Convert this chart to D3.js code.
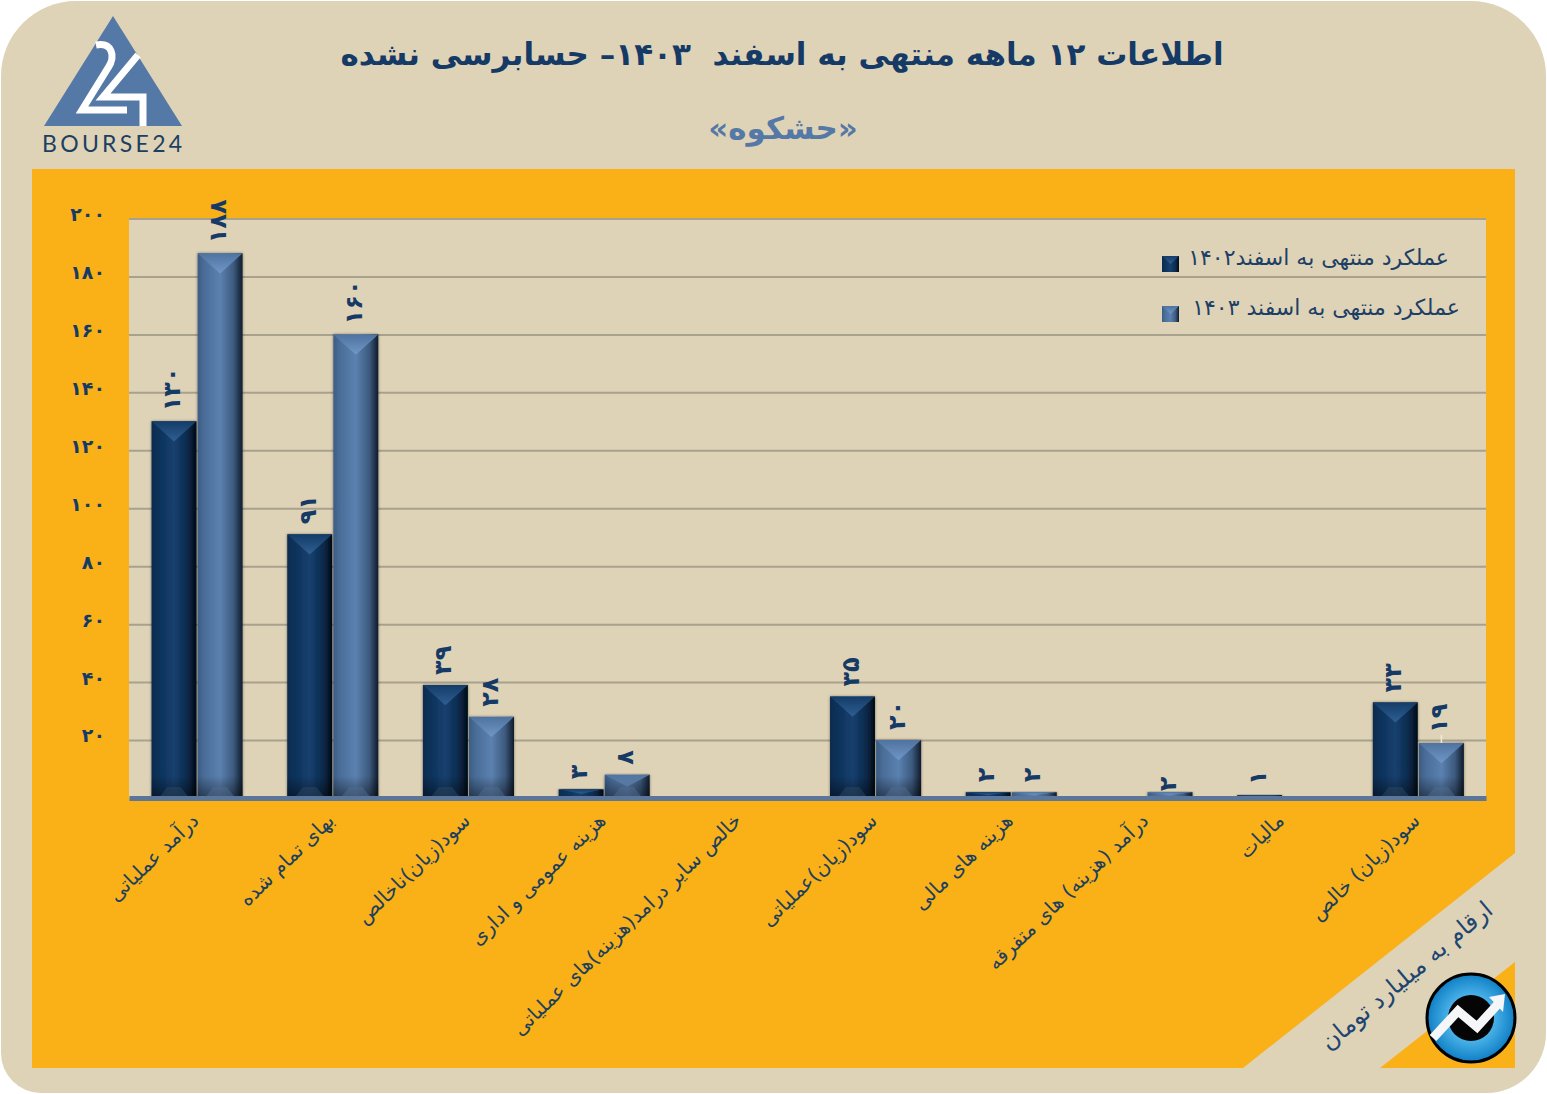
<!DOCTYPE html>
<html lang="fa">
<head>
<meta charset="utf-8">
<title>حشکوه</title>
<script src="https://cdn.jsdelivr.net/npm/d3@7"></script>
<style>
  html, body { margin: 0; padding: 0; background: #fff; }
  svg { display: block; }
  text { font-family: "DejaVu Sans", sans-serif; }
</style>
</head>
<body>
<script>
// data
const categories = [
  "درآمد عملیاتی",
  "بهای تمام شده",
  "سود(زیان)ناخالص",
  "هزینه عمومی و اداری",
  "خالص سایر درامد(هزینه)های عملیاتی",
  "سود(زیان)عملیاتی",
  "هزینه های مالی",
  "درآمد (هزینه) های متفرقه",
  "مالیات",
  "سود(زیان) خالص"
];
const series_names = ["عملکرد منتهی به اسفند۱۴۰۲", "عملکرد منتهی به اسفند ۱۴۰۳"];
const values_1402 = [130, 91, 39, 3, null, 35, 2, null, 1, 33];
const values_1403 = [188, 160, 28, 8, null, 20, 2, 2, null, 19];
const y_ticks = [20, 40, 60, 80, 100, 120, 140, 160, 180, 200];

const title_text = "اطلاعات ۱۲ ماهه منتهی به اسفند  ۱۴۰۳– حسابرسی نشده";
const subtitle_text = "«حشکوه»";
const unit_text = "ارقام به میلیارد تومان";

// colours
const beige = "#dfd3b7", orange = "#f9b117", navy = "#163a66", steel = "#5579a6";

// dimensions
const width = 1547, height = 1094;
const margin = {top: 218.5, right: 61, bottom: 296, left: 129};

const svg = d3.select("body").append("svg")
  .attr("width", width)
  .attr("height", height);

const fa = n => String(n).replace(/\d/g, d => "۰۱۲۳۴۵۶۷۸۹"[d]);

// gradients for the bars
const defs = svg.append("defs");
function hGrad(id, stops) {
  const g = defs.append("linearGradient").attr("id", id);
  stops.forEach(s => g.append("stop").attr("offset", s[0]).attr("stop-color", s[1]));
}
function vGrad(id, stops) {
  const g = defs.append("linearGradient").attr("id", id).attr("x1", 0).attr("x2", 0).attr("y1", 0).attr("y2", 1);
  stops.forEach(s => g.append("stop").attr("offset", s[0]).attr("stop-color", s[1]).attr("stop-opacity", s[2] === undefined ? 1 : s[2]));
}
hGrad("body0", [[0, "#0b2b4f"], [0.15, "#0e3159"], [0.5, "#15406f"], [0.8, "#0c2a4c"], [1, "#020a14"]]);
hGrad("body1", [[0, "#3c5d85"], [0.15, "#4a6d98"], [0.5, "#5b81b0"], [0.8, "#3d5a7e"], [1, "#0f1b2b"]]);
vGrad("top0", [[0, "#143c68"], [1, "#2f5f92"]]);
vGrad("top1", [[0, "#4f739f"], [1, "#7097c8"]]);
vGrad("foot", [[0, "#000", 0], [1, "#000", 0.45]]);
const shadow = defs.append("filter").attr("id", "shade")
  .attr("x", "-10%").attr("width", "120%").attr("y", "-5%").attr("height", "110%");
shadow.append("feDropShadow").attr("dx", 0).attr("dy", 0).attr("stdDeviation", 1.5)
  .attr("flood-color", "#000").attr("flood-opacity", 0.45);

const logo_grad = defs.append("radialGradient").attr("id", "ball");
[[0, "#8fd0f2"], [0.55, "#45aee6"], [1, "#0f7fc4"]].forEach(s =>
  logo_grad.append("stop").attr("offset", s[0]).attr("stop-color", s[1]));

// panel and orange background
svg.append("path")
  .attr("d", "M76,1H1471A75,75 0 0 1 1546,76V1033A60,60 0 0 1 1486,1093H41A40,40 0 0 1 1,1053V76A75,75 0 0 1 76,1Z")
  .attr("fill", beige);
svg.append("path").attr("d", "M32,169H1515V853L1243,1068H32Z").attr("fill", orange);
svg.append("path").attr("d", "M1515,962V1068H1380Z").attr("fill", orange);

// plot background
svg.append("rect")
  .attr("x", margin.left).attr("y", margin.top)
  .attr("width", width - margin.left - margin.right)
  .attr("height", height - margin.top - margin.bottom)
  .attr("fill", beige);

// scales
const x = d3.scaleBand().domain(categories).range([margin.left, width - margin.right]);
const xInner = d3.scaleBand().domain([0, 1])
  .range([x.bandwidth() * 0.166, x.bandwidth() * 0.837]).paddingInner(0.025);
const y = d3.scaleLinear().domain([0, 200]).range([height - margin.bottom, margin.top]);

// y axis and grid
const yAxis = svg.append("g")
  .attr("transform", "translate(" + margin.left + ",0)")
  .call(d3.axisLeft(y).tickValues(y_ticks).tickFormat(fa).tickSize(-(width - margin.left - margin.right)).tickPadding(24));
yAxis.select(".domain").remove();
yAxis.selectAll("line").attr("stroke", "#a8a18e").attr("stroke-width", 2);
yAxis.selectAll("text")
  .attr("dy", "0.1em")
  .attr("fill", navy)
  .attr("font-size", 19)
  .attr("font-weight", "bold");

// bars
const rows = [];
categories.forEach((c, i) => {
  [values_1402[i], values_1403[i]].forEach((v, s) => {
    if (v !== null) rows.push({category: c, series: s, value: v, index: i});
  });
});

const bw = xInner.bandwidth();
const bars = svg.append("g").selectAll("g").data(rows).enter().append("g")
  .attr("transform", d => "translate(" + (x(d.category) + xInner(d.series)) + ",0)");

bars.append("rect")
  .attr("y", d => y(d.value))
  .attr("width", bw)
  .attr("height", d => y(0) - y(d.value))
  .attr("fill", d => "url(#body" + d.series + ")")
  .attr("filter", "url(#shade)");

// bevel on top of each bar, limited by the bar height
bars.append("path")
  .attr("d", d => {
    const depth = Math.min(bw * 0.45, (y(0) - y(d.value)) * 0.5);
    return "M0," + y(d.value) + "H" + bw + "L" + (bw / 2) + "," + (y(d.value) + depth) + "Z";
  })
  .attr("fill", d => "url(#top" + d.series + ")");

// darker bevel at the foot of each bar
bars.filter(d => d.value > 5).append("rect")
  .attr("y", y(0) - 22)
  .attr("width", bw)
  .attr("height", 22)
  .attr("fill", "url(#foot)");
bars.filter(d => d.value > 5).append("path")
  .attr("d", "M" + (bw * 0.16) + "," + y(0) + "H" + (bw * 0.84) + "L" + (bw * 0.65) + "," + (y(0) - 11) + "H" + (bw * 0.35) + "Z")
  .attr("fill", d => d.series ? "#4f6c8f" : "#2b4764")
  .attr("opacity", 0.5);

// value labels
const label_gap = d => d.index === 7 ? 1 : 10;
bars.append("text")
  .attr("transform", d => "translate(" + (bw / 2 + 6) + "," + (y(d.value) - label_gap(d)) + ") rotate(-90)")
  .attr("fill", navy)
  .attr("font-size", 24)
  .attr("font-weight", "bold")
  .text(d => fa(d.value));

// small leader above the last bar
bars.filter(d => d.index === 9 && d.series === 1).append("line")
  .attr("x1", bw / 2).attr("x2", bw / 2)
  .attr("y1", d => y(d.value) - 8).attr("y2", d => y(d.value))
  .attr("stroke", "#f1ead9").attr("stroke-width", 1.5);

// x axis
const xAxis = svg.append("g")
  .attr("transform", "translate(0," + y(0) + ")")
  .call(d3.axisBottom(x).tickSize(0).tickPadding(0));
xAxis.select(".domain").attr("stroke", "#5b7699").attr("stroke-width", 5);
xAxis.selectAll("text")
  .attr("transform", "translate(3,24) rotate(-44)")
  .attr("y", 0).attr("dy", 0)
  .attr("direction", "rtl")
  .attr("text-anchor", "start")
  .attr("fill", "#1d3f5e")
  .attr("font-size", 20);

// title
svg.append("text")
  .attr("x", 782).attr("y", 65)
  .attr("text-anchor", "middle")
  .attr("direction", "rtl")
  .style("white-space", "pre")
  .attr("fill", navy)
  .attr("font-size", 31)
  .attr("font-weight", "bold")
  .text(title_text);

svg.append("text")
  .attr("x", 783).attr("y", 139)
  .attr("text-anchor", "middle")
  .attr("direction", "rtl")
  .attr("fill", steel)
  .attr("font-size", 31)
  .attr("font-weight", "bold")
  .text(subtitle_text);

// legend
const legend = svg.append("g").selectAll("g").data(series_names).enter().append("g")
  .attr("transform", (d, i) => "translate(1162," + (256 + i * 50) + ")");
legend.append("rect").attr("width", 17).attr("height", 16)
  .attr("fill", (d, i) => "url(#body" + i + ")");
legend.append("path").attr("d", "M0,0H17L8.5,8Z").attr("fill", (d, i) => "url(#top" + i + ")");
legend.append("text")
  .attr("x", (d, i) => i ? 298 : 287).attr("y", 9)
  .attr("direction", "rtl")
  .attr("text-anchor", "start")
  .attr("fill", "#1d3f66")
  .attr("font-size", 22)
  .text(d => d);

// unit note in the corner
svg.append("text")
  .attr("transform", "translate(1489,906) rotate(-40)")
  .attr("direction", "rtl")
  .attr("text-anchor", "start")
  .attr("dy", "0.35em")
  .attr("fill", "#1d4570")
  .attr("font-size", 24)
  .text(unit_text);

// bourse24 logo
const logo = svg.append("g");
logo.append("path").attr("d", "M113,16L182,126H44Z").attr("fill", steel);
logo.append("path")
  .attr("d", "M96,45C112,42 116,56 108,68L82,110H127")
  .attr("fill", "none").attr("stroke", "#fff").attr("stroke-width", 7);
logo.append("path")
  .attr("d", "M138,55L103,97H143V126")
  .attr("fill", "none").attr("stroke", "#fff").attr("stroke-width", 7);
logo.append("text")
  .attr("x", 42).attr("y", 152)
  .attr("fill", "#1c3f62")
  .style("font-family", "Lato, sans-serif")
  .attr("font-size", 23)
  .attr("letter-spacing", 3.3)
  .text("BOURSE24");

// round badge
const badge = svg.append("g");
badge.append("circle").attr("cx", 1471).attr("cy", 1018).attr("r", 44)
  .attr("fill", "url(#ball)").attr("stroke", "#000").attr("stroke-width", 3);
badge.append("circle").attr("cx", 1471).attr("cy", 1018).attr("r", 23).attr("fill", "#050505");
badge.append("path")
  .attr("d", "M1433,1038L1458,1011L1477,1027L1498,1004")
  .attr("fill", "none").attr("stroke", "#f4f6f7").attr("stroke-width", 9);
badge.append("path").attr("d", "M1505,994L1489,997L1503,1012Z").attr("fill", "#f4f6f7");
</script>
</body>
</html>
